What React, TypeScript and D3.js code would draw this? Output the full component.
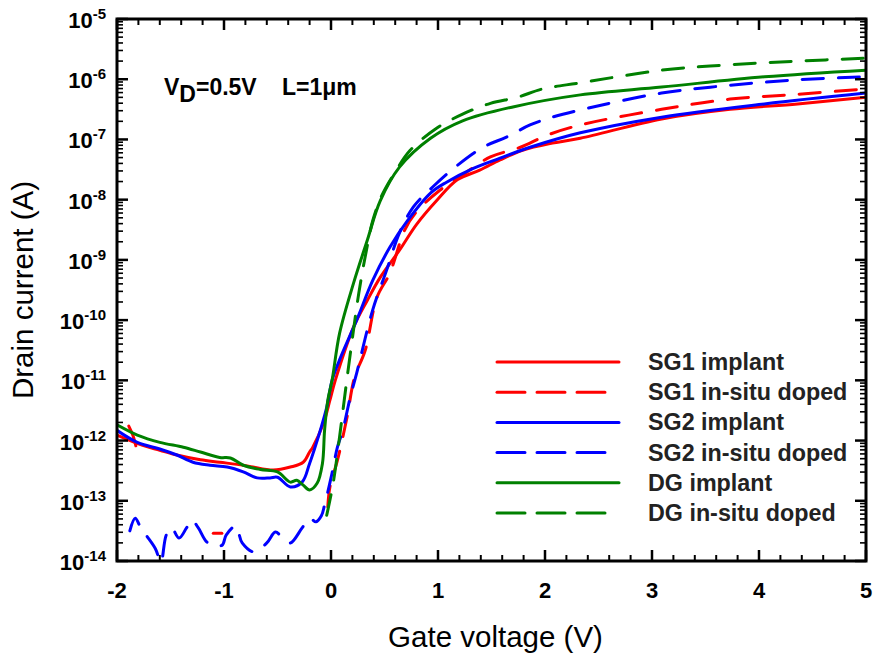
import React from 'react'
import * as d3 from 'd3'

const W = 877
const H = 659
const margin = { top: 19, right: 11, bottom: 98, left: 117 }
const FONT = '"Liberation Sans", Arial, Helvetica, sans-serif'

// x ticks (gate voltage, V) and y decades (log10 of drain current, A)
const xMajor = [-2, -1, 0, 1, 2, 3, 4, 5]
const yDecades = [-5, -6, -7, -8, -9, -10, -11, -12, -13, -14]

// [gate voltage (V), log10 drain current (A)]
// null = no plottable point (current at/below zero, gap on the log axis)
const sg1Implant = [
  [-2.0, -11.91], [-1.76, -12.08], [-1.6, -12.16], [-1.44, -12.24], [-1.22, -12.32],
  [-1.04, -12.36], [-0.82, -12.41], [-0.73, -12.44], [-0.54, -12.49], [-0.38, -12.44],
  [-0.26, -12.36], [-0.2, -12.19], [-0.17, -12.11], [-0.07, -11.71], [-0.01, -11.33],
  [0.04, -11.0], [0.21, -10.12], [0.34, -9.67], [0.46, -9.29], [0.64, -8.84],
  [0.8, -8.41], [0.99, -8.01], [1.18, -7.67], [1.39, -7.51], [1.58, -7.34],
  [1.79, -7.18], [2.07, -7.06], [2.33, -6.98], [3.09, -6.66], [3.73, -6.5],
  [4.36, -6.41], [5.0, -6.3]
]

const sg1InSitu = [
  [-1.89, -11.76], [-1.85, -11.92], [-1.81, -12.19],
  null,
  [-1.1, -13.54], [-1.02, -13.54],
  null,
  [-0.03, -13.1], [-0.01, -12.77],
  [0.06, -12.33], [0.15, -11.61], [0.22, -10.95], [0.32, -10.5], [0.43, -9.62],
  [0.55, -9.22], [0.69, -8.5], [0.8, -8.2], [1.02, -7.84], [1.27, -7.54],
  [1.49, -7.29], [1.77, -7.13], [2.02, -6.93], [2.33, -6.76], [3.09, -6.5],
  [3.73, -6.33], [4.36, -6.25], [5.0, -6.16]
]

const sg2Implant = [
  [-2.0, -11.83], [-1.81, -12.03], [-1.6, -12.14], [-1.44, -12.24], [-1.29, -12.36],
  [-1.13, -12.41], [-0.97, -12.44], [-0.82, -12.52], [-0.69, -12.62], [-0.57, -12.62],
  [-0.5, -12.61], [-0.38, -12.77], [-0.27, -12.69], [-0.2, -12.38], [-0.1, -11.83],
  [-0.04, -11.45], [0.01, -11.0], [0.08, -10.66], [0.24, -10.0], [0.39, -9.34],
  [0.55, -8.79], [0.71, -8.36], [0.93, -7.89], [1.08, -7.71], [1.33, -7.48],
  [1.58, -7.31], [1.86, -7.13], [2.33, -6.89], [3.09, -6.63], [4.05, -6.41],
  [5.0, -6.23]
]

const sg2InSitu = [
  [-1.88, -13.5], [-1.83, -13.29], [-1.78, -13.44], [-1.72, -13.59],
  [-1.64, -13.8], [-1.59, -14.02], [-1.54, -13.57], [-1.49, -13.45], [-1.42, -13.62],
  [-1.35, -13.45], [-1.3, -13.32], [-1.24, -13.45], [-1.15, -13.7], [-1.02, -13.74],
  [-0.98, -13.57], [-0.89, -13.42], [-0.83, -13.7], [-0.72, -13.85], [-0.6, -13.7],
  [-0.52, -13.52], [-0.45, -13.62], [-0.38, -13.7], [-0.27, -13.45], [-0.2, -13.29],
  [-0.14, -13.35], [-0.09, -13.25], [-0.06, -13.07], [0.01, -12.54], [0.06, -12.11],
  [0.11, -11.83], [0.18, -11.28], [0.24, -10.88], [0.39, -9.83], [0.52, -9.17],
  [0.64, -8.55], [0.77, -8.12], [0.95, -7.79], [1.16, -7.46], [1.42, -7.13],
  [1.64, -6.96], [1.86, -6.76], [2.05, -6.64], [2.33, -6.51], [3.09, -6.23],
  [3.73, -6.1], [4.36, -6.01], [5.0, -5.96]
]

const dgImplant = [
  [-2.0, -11.74], [-1.81, -11.91], [-1.6, -12.03], [-1.38, -12.11], [-1.22, -12.19],
  [-1.04, -12.28], [-0.94, -12.29], [-0.82, -12.41], [-0.66, -12.48], [-0.5, -12.52],
  [-0.38, -12.69], [-0.32, -12.66], [-0.26, -12.74], [-0.2, -12.82], [-0.13, -12.71],
  [-0.08, -12.38], [-0.06, -11.83], [-0.03, -11.33], [0.01, -11.0], [0.08, -10.22],
  [0.21, -9.39], [0.34, -8.67], [0.46, -8.02], [0.64, -7.46], [0.93, -6.98],
  [1.23, -6.69], [1.7, -6.46], [2.33, -6.26], [3.09, -6.13], [4.05, -5.96],
  [5.0, -5.85]
]

const dgInSitu = [
  [-0.04, -13.24], [0.02, -12.71], [0.08, -11.94], [0.14, -11.1], [0.2, -10.3],
  [0.26, -9.55], [0.33, -8.85], [0.39, -8.35], [0.47, -7.95], [0.6, -7.54],
  [0.74, -7.18], [0.99, -6.81], [1.23, -6.58], [1.49, -6.4], [1.74, -6.3],
  [1.98, -6.16], [2.33, -6.06], [3.09, -5.85], [3.73, -5.76], [4.36, -5.7],
  [5.0, -5.65]
]

const seriesNames = [
  'SG1 implant', 'SG1 in-situ doped', 'SG2 implant',
  'SG2 in-situ doped', 'DG implant', 'DG in-situ doped'
]
const seriesColors = ['#ff0000', '#ff0000', '#0000ff', '#0000ff', '#008000', '#008000']
const seriesData: (number[] | null)[][] = [sg1Implant, sg1InSitu, sg2Implant, sg2InSitu, dgImplant, dgInSitu]

// break a series at its null entries
const splitSegments = (data: (number[] | null)[]) => {
  const segs: number[][][] = []
  let cur: number[][] = []
  data.forEach(d => {
    if (d === null) {
      if (cur.length) segs.push(cur)
      cur = []
    } else cur.push(d)
  })
  if (cur.length) segs.push(cur)
  return segs
}

const App = () => {
  const innerW = W - margin.left - margin.right
  const innerH = H - margin.top - margin.bottom

  const x = d3.scaleLinear().domain([-2, 5]).range([0, innerW])
  const y = d3.scaleLog().domain([1e-14, 1e-5]).range([innerH, 0])

  const line = d3
    .line<number[]>()
    .x(d => x(d[0]))
    .y(d => y(Math.pow(10, d[1])))
    .curve(d3.curveCatmullRom.alpha(0.5))

  const xMinor = d3.range(-2, 5.001, 0.2).filter(v => Math.abs(v - Math.round(v)) > 0.01)
  const yMinor: number[] = []
  yDecades.slice(1).forEach(d => {
    for (let k = 2; k <= 9; k++) yMinor.push(k * Math.pow(10, d))
  })

  const majorLen = 11
  const minorLen = 6

  return (
    <svg width={W} height={H} style={{ position: 'absolute', left: 0, top: 0, background: '#fff' }}
      fontFamily={FONT}>
      <defs>
        <clipPath id="plot-clip">
          <rect x={0} y={0} width={innerW} height={innerH} />
        </clipPath>
      </defs>
      <g transform={'translate(' + margin.left + ',' + margin.top + ')'}>
        {/* data curves */}
        <g clipPath="url(#plot-clip)">
          {seriesData.map((data, i) =>
            splitSegments(data).map((seg, j) => (
              <path key={i + '-' + j} d={line(seg) || ''} fill="none" stroke={seriesColors[i]}
                strokeWidth={3} strokeLinecap="round" strokeLinejoin="round"
                strokeDasharray={i % 2 === 1 ? '21,15' : undefined} />
            ))
          )}
        </g>

        {/* frame */}
        <rect x={0} y={0} width={innerW} height={innerH} fill="none" stroke="#000" strokeWidth={3} />

        {/* x ticks, bottom and top, pointing inward */}
        {xMajor.map(v => (
          <g key={'xM' + v} stroke="#000" strokeWidth={2.5}>
            <line x1={x(v)} x2={x(v)} y1={innerH} y2={innerH - majorLen} />
            <line x1={x(v)} x2={x(v)} y1={0} y2={majorLen} />
          </g>
        ))}
        {xMinor.map((v, i) => (
          <g key={'xm' + i} stroke="#000" strokeWidth={2}>
            <line x1={x(v)} x2={x(v)} y1={innerH} y2={innerH - minorLen} />
            <line x1={x(v)} x2={x(v)} y1={0} y2={minorLen} />
          </g>
        ))}

        {/* y ticks, left and right */}
        {yDecades.map(d => (
          <g key={'yM' + d} stroke="#000" strokeWidth={2.5}>
            <line x1={0} x2={majorLen} y1={y(Math.pow(10, d))} y2={y(Math.pow(10, d))} />
            <line x1={innerW} x2={innerW - majorLen} y1={y(Math.pow(10, d))} y2={y(Math.pow(10, d))} />
          </g>
        ))}
        {yMinor.map((v, i) => (
          <g key={'ym' + i} stroke="#000" strokeWidth={1.6}>
            <line x1={0} x2={minorLen} y1={y(v)} y2={y(v)} />
            <line x1={innerW} x2={innerW - minorLen} y1={y(v)} y2={y(v)} />
          </g>
        ))}

        {/* x tick labels */}
        {xMajor.map(v => (
          <text key={'xl' + v} x={x(v)} y={innerH + 37} textAnchor="middle"
            fontSize={22} fontWeight="bold" fill="#000">
            {v}
          </text>
        ))}

        {/* y tick labels 10^n */}
        {yDecades.map(d => (
          <text key={'yl' + d} x={-11} y={y(Math.pow(10, d)) + 9} textAnchor="end"
            fontSize={22} fontWeight="bold" fill="#000">
            10<tspan dy={-9} fontSize={15}>{d}</tspan>
          </text>
        ))}

        {/* axis titles */}
        <text x={innerW / 2 + 4} y={innerH + 86} textAnchor="middle" fontSize={29.5} fill="#000">
          Gate voltage (V)
        </text>
        <text transform={'translate(' + (33 - margin.left) + ',' + (290 - margin.top) + ') rotate(-90)'}
          textAnchor="middle" fontSize={29.5} fill="#000">
          Drain current (A)
        </text>

        {/* annotation */}
        <text x={164 - margin.left} y={95 - margin.top} fontSize={23} fontWeight="bold" fill="#000">
          V<tspan dy={7}>D</tspan><tspan dy={-7}>=0.5V</tspan>
        </text>
        <text x={282 - margin.left} y={95 - margin.top} fontSize={23} fontWeight="bold" fill="#000">
          L=1μm
        </text>

        {/* legend */}
        {seriesNames.map((name, i) => {
          const ly = 362 - margin.top + i * 30.2
          const lx = 497 - margin.left
          return (
            <g key={'lg' + i}>
              <line x1={lx} x2={i % 2 === 1 ? lx + 110 : lx + 122} y1={ly} y2={ly}
                stroke={seriesColors[i]} strokeWidth={3} strokeLinecap="round"
                strokeDasharray={i % 2 === 1 ? '28,12' : undefined} />
              <text x={648 - margin.left} y={ly + 8} fontSize={23.3} fontWeight="bold" fill="#222">
                {name}
              </text>
            </g>
          )
        })}
      </g>
    </svg>
  )
}

export default App
